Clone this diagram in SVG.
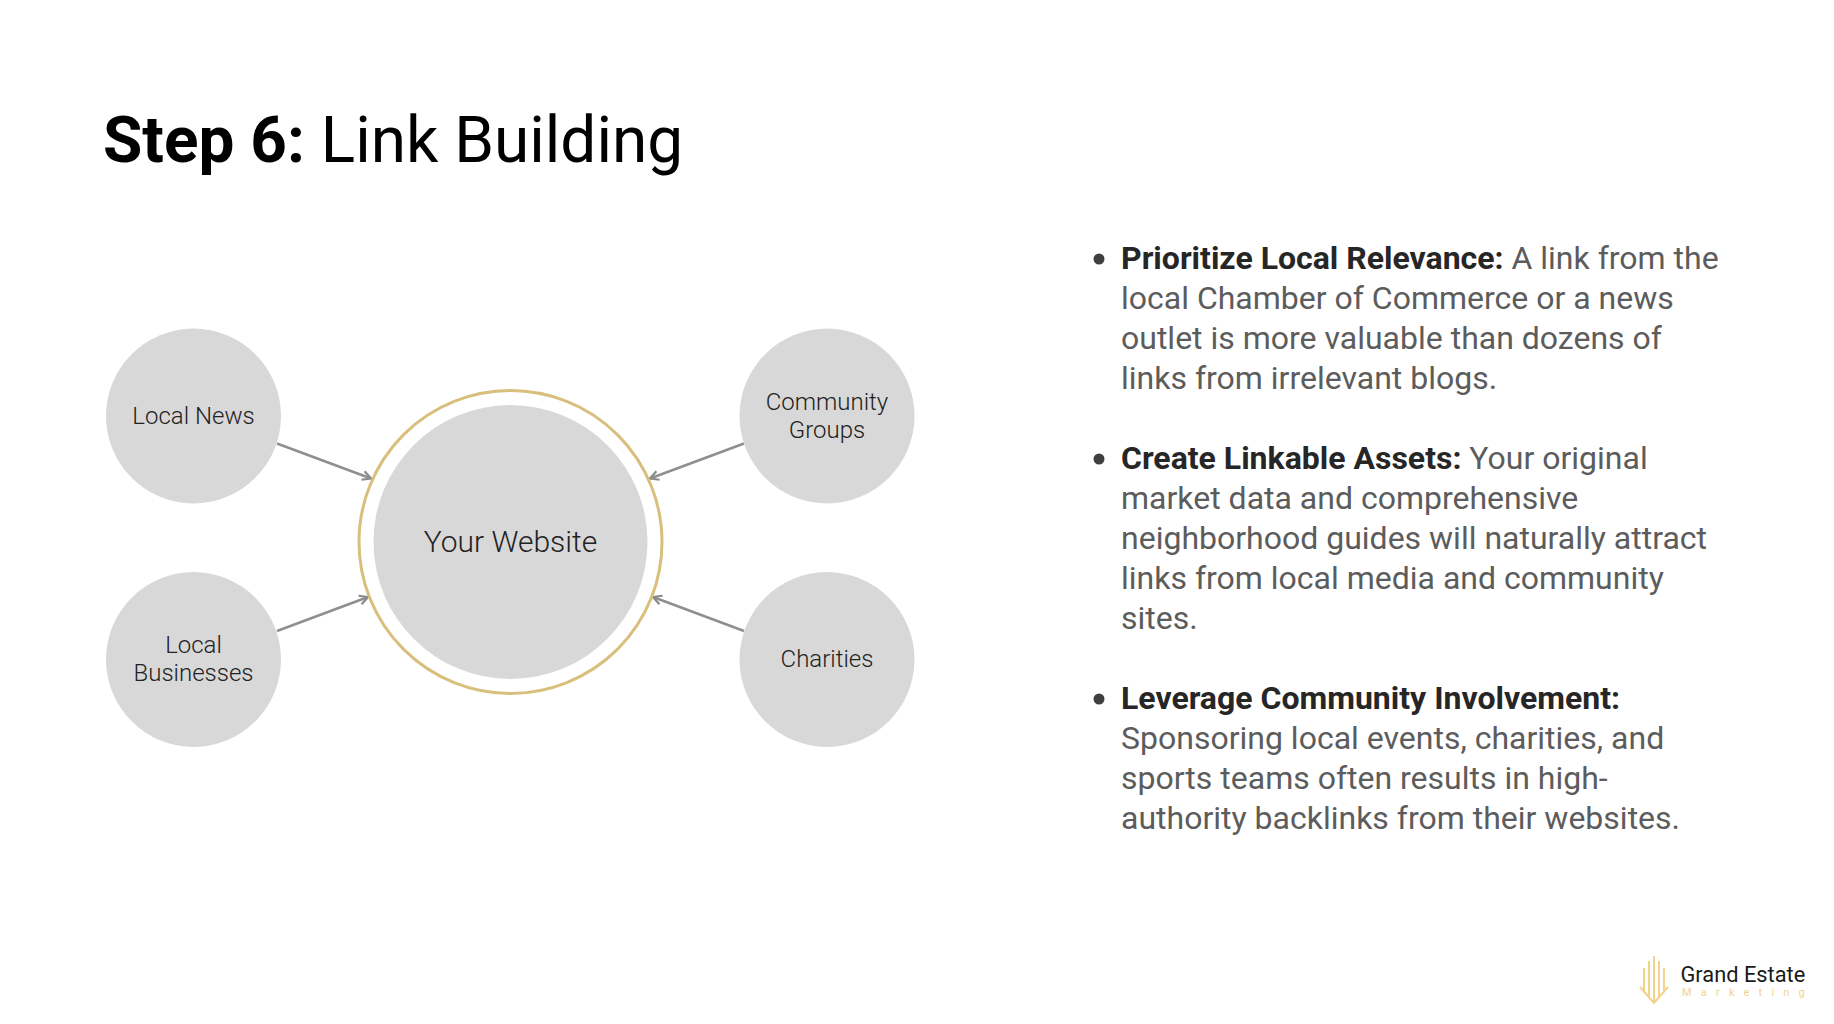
<svg xmlns="http://www.w3.org/2000/svg" width="1834" height="1024" viewBox="0 0 1834 1024">
<style>
text{font-family:Roboto,"Liberation Sans",sans-serif}
.t{font-size:63.9px;fill:#000}
.b{font-size:32px;fill:#5c5c5c}
.b .h{font-weight:700;fill:#262626}
.n{font-size:24px;fill:#222;text-anchor:middle;font-weight:300}
.c{fill:#d8d8d8}
.a{fill:none;stroke:#8f8f8f;stroke-width:2.5}
</style>
<defs>
<marker id="ah" viewBox="0 0 12 12" refX="10.5" refY="6" markerWidth="12" markerHeight="12" markerUnits="userSpaceOnUse" orient="auto"><path d="M2 1.5L10.5 6L2 10.5" fill="none" stroke="#8a8a8a" stroke-width="2.2"/></marker>
</defs>
<rect width="1834" height="1024" fill="#fff"/>
<text class="t" x="103" y="162"><tspan font-weight="700">Step 6:</tspan> Link Building</text>
<g id="connectors">
<path class="a" marker-end="url(#ah)" d="M277 443.500L371 478.500"/>
<path class="a" marker-end="url(#ah)" d="M277 631L368 597"/>
<path class="a" marker-end="url(#ah)" d="M744 443.500L650 478.500"/>
<path class="a" marker-end="url(#ah)" d="M744 631L653 597"/>
</g>
<g id="node-website">
<circle cx="510.500" cy="542" r="151.500" fill="#fff" stroke="#d8bf7c" stroke-width="3"/>
<circle class="c" cx="510.500" cy="542" r="137"/>
<text class="n" x="510.500" y="551.500" style="font-size:30px">Your Website</text>
</g>
<g id="node-local-news">
<circle class="c" cx="193.500" cy="416" r="87.500"/>
<text class="n" x="193.500" y="423.500">Local News</text>
</g>
<g id="node-community-groups">
<circle class="c" cx="827" cy="416" r="87.500"/>
<text class="n" x="827" y="409.500">Community</text>
<text class="n" x="827" y="437.500">Groups</text>
</g>
<g id="node-local-businesses">
<circle class="c" cx="193.500" cy="659.500" r="87.500"/>
<text class="n" x="193.500" y="652.500">Local</text>
<text class="n" x="193.500" y="680.500">Businesses</text>
</g>
<g id="node-charities">
<circle class="c" cx="827" cy="659.500" r="87.500"/>
<text class="n" x="827" y="666.500">Charities</text>
</g>
<g id="bullets">
<circle cx="1099" cy="259" r="5.500" fill="#404040"/>
<circle cx="1099" cy="459" r="5.500" fill="#404040"/>
<circle cx="1099" cy="699" r="5.500" fill="#404040"/>
<text class="b">
<tspan x="1121" y="269"><tspan class="h">Prioritize Local Relevance:</tspan> A link from the</tspan>
<tspan x="1121" y="309">local Chamber of Commerce or a news</tspan>
<tspan x="1121" y="349">outlet is more valuable than dozens of</tspan>
<tspan x="1121" y="389">links from irrelevant blogs.</tspan>
</text>
<text class="b">
<tspan x="1121" y="469"><tspan class="h">Create Linkable Assets:</tspan> Your original</tspan>
<tspan x="1121" y="509">market data and comprehensive</tspan>
<tspan x="1121" y="549">neighborhood guides will naturally attract</tspan>
<tspan x="1121" y="589">links from local media and community</tspan>
<tspan x="1121" y="629">sites.</tspan>
</text>
<text class="b">
<tspan x="1121" y="709"><tspan class="h">Leverage Community Involvement:</tspan></tspan>
<tspan x="1121" y="749">Sponsoring local events, charities, and</tspan>
<tspan x="1121" y="789">sports teams often results in high-</tspan>
<tspan x="1121" y="829">authority backlinks from their websites.</tspan>
</text>
</g>
<g id="logo">
<g fill="none" stroke="#f2d38c" stroke-width="2">
<path d="M1640 987L1654 1003L1668 987"/>
<path d="M1644 991V968M1649 997V961M1654 1003V956M1659 997V961M1664 991V968"/>
</g>
<text x="1680.500" y="981.500" style="font-size:21.800px" fill="#1a1a1a">Grand Estate</text>
<text x="1682" y="996" style="font-size:11px;letter-spacing:9.2px" fill="#f2d38c">Marketing</text>
</g>
</svg>
